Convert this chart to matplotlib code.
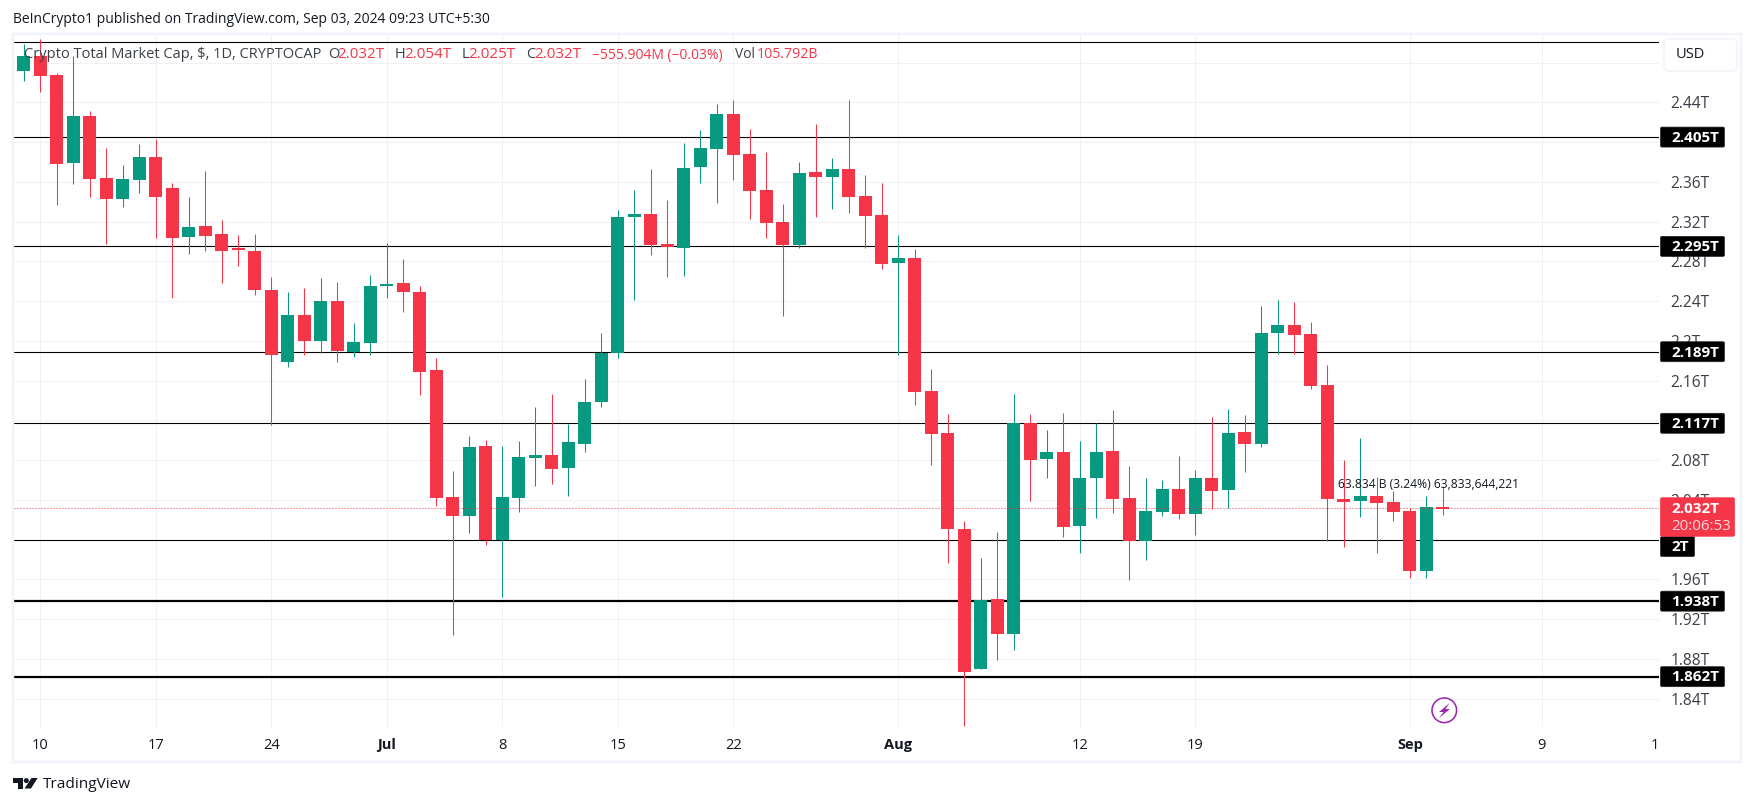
import matplotlib
matplotlib.use("Agg")
import matplotlib.pyplot as plt
from matplotlib.patches import Rectangle, FancyBboxPatch, Circle, Polygon
import pandas as pd
import numpy as np

plt.rcParams['font.family'] = ['Open Sans', 'DejaVu Sans']

dates = pd.date_range('2024-06-09', periods=87, freq='D')
opens = [2.471,2.487,2.467,2.379,2.426,2.364,2.343,2.362,2.385,2.354,2.304,2.316,2.307,2.292,2.290,2.251,2.179,2.226,2.200,2.240,2.189,2.198,
         2.255,2.258,2.249,2.171,2.043,2.024,2.094,2.000,2.042,2.082,2.085,2.072,2.096,2.138,2.188,2.325,2.328,2.297,2.293,2.375,2.393,2.428,
         2.388,2.352,2.320,2.296,2.370,2.365,2.373,2.346,2.327,2.278,2.283,2.149,2.107,2.011,1.870,1.940,1.905,2.117,2.081,2.088,2.014,2.062,
         2.089,2.042,1.999,2.028,2.051,2.026,2.062,2.050,2.108,2.096,2.208,2.216,2.207,2.156,2.041,2.039,2.044,2.038,2.029,1.968,2.032]
highs = [2.499,2.504,2.469,2.487,2.431,2.394,2.377,2.398,2.403,2.359,2.345,2.371,2.322,2.306,2.307,2.264,2.249,2.253,2.263,2.259,2.218,2.266,
         2.298,2.282,2.255,2.183,2.069,2.104,2.100,2.094,2.099,2.133,2.146,2.116,2.162,2.208,2.332,2.352,2.373,2.342,2.399,2.412,2.438,2.442,
         2.413,2.390,2.338,2.380,2.418,2.384,2.442,2.367,2.359,2.306,2.292,2.172,2.126,2.019,1.981,2.008,2.146,2.126,2.110,2.127,2.099,2.117,
         2.130,2.074,2.062,2.060,2.084,2.070,2.123,2.131,2.125,2.235,2.241,2.239,2.219,2.176,2.080,2.102,2.063,2.049,2.032,2.044,2.054]
lows = [2.461,2.450,2.337,2.358,2.345,2.297,2.335,2.349,2.303,2.243,2.287,2.290,2.258,2.275,2.246,2.115,2.174,2.186,2.188,2.179,2.184,2.186,
        2.243,2.229,2.145,2.034,1.904,2.007,1.995,1.942,2.028,2.054,2.056,2.044,2.088,2.133,2.183,2.241,2.286,2.264,2.265,2.359,2.339,2.362,
        2.323,2.303,2.225,2.293,2.325,2.333,2.329,2.293,2.272,2.186,2.135,2.075,1.976,1.812,1.870,1.879,1.889,2.039,2.062,2.003,1.986,2.022,
        2.027,1.959,1.979,2.024,2.021,2.005,2.031,2.032,2.068,2.093,2.187,2.187,2.151,1.999,1.993,2.023,1.986,2.019,1.961,1.961,2.025]
closes = [2.487,2.466,2.378,2.426,2.363,2.343,2.363,2.385,2.345,2.303,2.315,2.305,2.290,2.291,2.251,2.186,2.226,2.200,2.240,2.190,2.199,2.255,
          2.256,2.249,2.169,2.042,2.024,2.093,2.000,2.043,2.083,2.085,2.071,2.098,2.138,2.188,2.325,2.328,2.296,2.294,2.374,2.394,2.428,2.387,
          2.351,2.319,2.296,2.369,2.365,2.373,2.345,2.326,2.277,2.283,2.148,2.106,2.011,1.867,1.939,1.905,2.117,2.080,2.088,2.013,2.062,2.088,
          2.041,1.999,2.029,2.051,2.026,2.062,2.049,2.107,2.096,2.208,2.216,2.206,2.155,2.041,2.038,2.044,2.037,2.028,1.968,2.033,2.031]
levels = [2.5004, 2.405, 2.295, 2.189, 2.117, 2.0, 1.938, 1.862]
level_labels = ['', '2.405T', '2.295T', '2.189T', '2.117T', '2T', '1.938T', '1.862T']
level_widths = [1, 1, 1, 1, 1, 1, 2, 2]
price_ticks = [1.84,1.88,1.92,1.96,2.00,2.04,2.08,2.12,2.16,2.20,2.24,2.28,2.32,2.36,2.40,2.44,2.48]
price_tick_labels = ['1.84T','1.88T','1.92T','1.96T','','2.04T','2.08T','','2.16T','2.2T','2.24T','2.28T','2.32T','2.36T','','2.44T','']
time_ticks = [0,7,14,21,28,35,42,52,63,70,83,91,97.85]
time_labels = ['10','17','24','Jul','8','15','22','Aug','12','19','Sep','9','1']
last_price = 2.032

GREEN = '#089981'; RED = '#F43648'; TEXT = '#131722'; AXT = '#3b3f4a'; FRAME = '#F0F3FA'; GRID = '#F0F1F5'
W, H = 1754, 806
PX = 1/100
fig = plt.figure(figsize=(W/100, H/100), dpi=100, facecolor='white')
L, R, T, B = 14, 1659, 35, 727
ax = fig.add_axes([L/W, (H-B)/H, (R-L)/W, (B-T)/H], facecolor='white')
X0, XS = 40.4, 16.5
Y0, YS = 102.3, 993.75
ax.set_xlim((L-X0)/XS, (R-X0)/XS)
ax.set_ylim(2.44-(B-Y0)/YS, 2.44-(T-Y0)/YS)
def ypx(p):
    return Y0 + (2.44-p)*YS

days = (dates - pd.Timestamp('2024-06-10')).days.values.astype(float)
o, h, l, c = map(np.array, (opens, highs, lows, closes))
colors = [GREEN if ci >= oi else RED for oi, ci in zip(o, c)]
for s in ax.spines.values():
    s.set_visible(False)
ax.set_axisbelow(True)
ax.grid(True, color=GRID, lw=1*72*PX)
ax.vlines(days, l, h, colors=colors, lw=1.05*72*PX, zorder=3)
ax.bar(days, np.maximum(np.abs(c-o), 0.002), bottom=np.minimum(o, c), width=13/XS, color=colors, lw=0, zorder=3.2)
for lv, lw in zip(levels, level_widths):
    ax.axhline(lv, color='black', lw=lw*72*PX*1.1, zorder=2)
ax.axhline(last_price, color=RED, lw=1*72*PX, ls=(0, (1, 2)), zorder=4)

ax.set_xticks(time_ticks)
ax.set_xticklabels(time_labels, fontsize=10.5, color=TEXT)
for t in ax.get_xticklabels():
    if t.get_text() in ('Jul', 'Aug', 'Sep'):
        t.set_fontweight('bold')
ax.xaxis.get_gridlines()[-1].set_visible(False)
ax.yaxis.tick_right()
ax.set_yticks(price_ticks)
ax.set_yticklabels(price_tick_labels, fontsize=11.2, color=AXT)
ax.tick_params(axis='both', length=0)
ax.tick_params(axis='x', pad=8.2)
ax.tick_params(axis='y', pad=8)

ov = fig.add_axes([0, 0, 1, 1], facecolor='none', zorder=10)
ov.set_xlim(0, W); ov.set_ylim(H, 0); ov.axis('off')
ov.add_patch(Rectangle((13, 34), 1727.5, 727.5, fill=False, ec=FRAME, lw=2.4*72*PX))
ov.text(13, 19.5, 'BeInCrypto1 published on TradingView.com, Sep 03, 2024 09:23 UTC+5:30', fontsize=10, color=TEXT, va='center')
ov.text(23.7, 55, 'Crypto Total Market Cap, $, 1D, CRYPTOCAP', fontsize=10.5, color=AXT, va='center')
for x, s, col, fs in [(328, 'O', AXT, 10.5), (337.5, '2.032T', RED, 11), (394.6, 'H', AXT, 10.5), (404.3, '2.054T', RED, 11),
                      (461.8, 'L', AXT, 10.5), (468.6, '2.025T', RED, 11), (525.7, 'C', AXT, 10.5), (534, '2.032T', RED, 11),
                      (591.8, '\u2212555.904M (\u22120.03%)', RED, 10), (735, 'Vol', AXT, 10), (757, '105.792B', RED, 10.2)]:
    ov.text(x, 55, s, fontsize=fs, color=col, va='center')
ov.text(1337.8, 484, '63.834 B (3.24%) 63,833,644,221', fontsize=8.7, color=TEXT, va='center')

# USD button
ov.add_patch(FancyBboxPatch((1667, 42), 67, 26, boxstyle='round,pad=3,rounding_size=5', fc='white', ec=FRAME, lw=1.5*72*PX))
ov.text(1675.5, 55, 'USD', fontsize=10.5, color=TEXT, va='center')

# level labels on price scale
for lv, s in zip(levels, level_labels):
    if not s:
        continue
    y = ypx(lv)
    bw = 35 if s == '2T' else 65
    if s == '2T':
        y += 7
    ov.add_patch(FancyBboxPatch((1660.5, y-10), bw-1, 20, boxstyle='round,pad=0,rounding_size=1.5', fc='black', ec='#222222', lw=0.5))
    ov.text(1671, y+0.8, s, fontsize=11, color='white', fontweight='bold', va='center')
# last price label
y = ypx(last_price)
ov.add_patch(FancyBboxPatch((1660.5, y-10), 74, 38.5, boxstyle='round,pad=0,rounding_size=1.5', fc=RED, ec=RED, lw=0.5))
ov.text(1671, y+0.8, '2.032T', fontsize=11, color='white', fontweight='bold', va='center')
ov.text(1671, y+19, '20:06:53', fontsize=10.8, color='#FFD9DC', va='center')

# lightning icon
ov.add_patch(Circle((1444.3, 710.3), 12.3, fc='white', ec='#9C27B0', lw=1.6*72*PX))
ov.add_patch(Polygon([(1449.5, 703), (1439, 712), (1443.5, 712), (1439, 718), (1450, 709), (1445.5, 709)], fc='#9C27B0', ec='none'))

# TradingView logo
ov.add_patch(Polygon([(13, 778), (23, 778), (23, 788.5), (18, 788.5), (18, 783), (13, 783)], fc=TEXT, ec='none'))
ov.add_patch(Circle((26.3, 780.6), 2.5, fc=TEXT, ec='none'))
ov.add_patch(Polygon([(31.5, 778), (37.7, 778), (31, 788.5), (24.5, 788.5)], fc=TEXT, ec='none'))
ov.text(42.7, 785, 'TradingView', fontsize=11.1, color=TEXT, va='center')

fig.savefig('out.png', dpi=100)
